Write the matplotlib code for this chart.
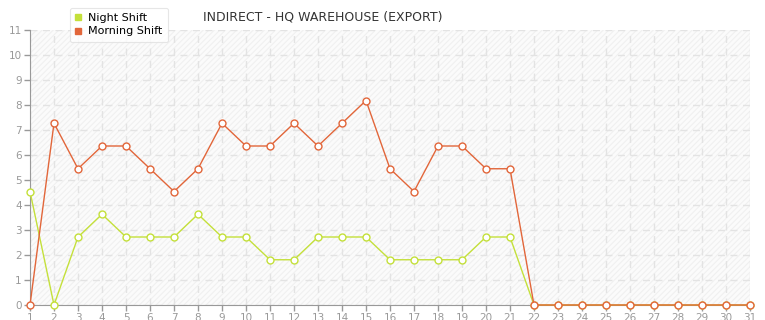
import numpy as np
import matplotlib
matplotlib.use("Agg")
from matplotlib import pyplot as plt
from matplotlib.lines import Line2D

days = list(range(1, 32))
morning = [0, 7.27, 5.45, 6.36, 6.36, 5.45, 4.54, 5.45, 7.27, 6.36, 6.36, 7.27, 6.36, 7.27, 8.18,
           5.45, 4.54, 6.36, 6.36, 5.45, 5.45, 0, 0, 0, 0, 0, 0, 0, 0, 0, 0]
night = [4.54, 0, 2.72, 3.63, 2.72, 2.72, 2.72, 3.63, 2.72, 2.72, 1.81, 1.81, 2.72, 2.72, 2.72,
         1.81, 1.81, 1.81, 1.81, 2.72, 2.72, 0, 0, 0, 0, 0, 0, 0, 0, 0, 0]
title = "INDIRECT - HQ WAREHOUSE (EXPORT)"

night_c = "#c4e03a"
morning_c = "#e2663a"
grey = "#999999"

plt.rcParams['hatch.linewidth'] = 0.8

fig = plt.figure(figsize=(7.65, 3.2), dpi=100)
ax = fig.add_axes([30/765, 15/320, 720/765, 275/320])
ax.set_facecolor("#fbfbfb")
# background hatch
ax.fill_between([1, 31], 0, 11, facecolor="none", edgecolor="#f0f0f0", hatch="//////", linewidth=0, zorder=0)

ax.plot(days, night, color=night_c, lw=1, marker="o", ms=5, mfc="white", mec=night_c, mew=1, zorder=3, clip_on=False)
ax.plot(days, morning, color=morning_c, lw=1, marker="o", ms=5, mfc="white", mec=morning_c, mew=1, zorder=4, clip_on=False)

ax.set_xlim(1, 31)
ax.set_ylim(0, 11)
ax.set_xticks(days)
ax.set_yticks(range(0, 12))
ax.grid(True, color="#e3e3e3", ls=(0, (5, 4)), lw=1)
ax.set_axisbelow(True)
for s in ["top", "right"]:
    ax.spines[s].set_visible(False)
ax.spines["left"].set_color(grey)
ax.spines["bottom"].set_color(grey)
ax.tick_params(colors=grey, labelsize=7.5, length=4, width=1, pad=2)

fig.text(323/765, 1 - 17/320, title, ha="center", va="center", fontsize=9, color="#333333")

handles = [Line2D([], [], color=night_c, marker="s", ls="none", ms=4),
           Line2D([], [], color=morning_c, marker="s", ls="none", ms=4)]
leg = fig.legend(handles, ["Night Shift", "Morning Shift"], loc="upper left",
                 bbox_to_anchor=(64/765, 1 - 2/320), fontsize=8, frameon=True,
                 fancybox=True, handlelength=0.6, handletextpad=0.6,
                 labelspacing=0.3, borderpad=0.5, edgecolor="#e0e0e0")
leg.get_frame().set_linewidth(0.8)

fig.savefig("out.png", dpi=100)
